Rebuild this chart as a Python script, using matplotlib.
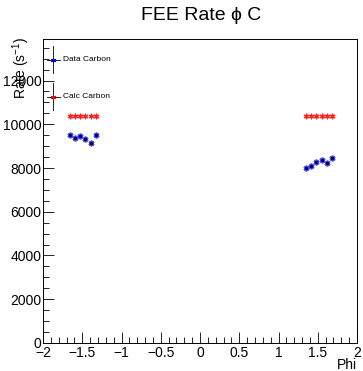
import matplotlib
matplotlib.use("Agg")
import matplotlib.pyplot as plt
from matplotlib.ticker import MultipleLocator, FuncFormatter

plt.rcParams['font.family'] = ['Liberation Sans', 'DejaVu Sans']
plt.rcParams['mathtext.default'] = 'regular'

phi_left = [-1.66, -1.596, -1.529, -1.461, -1.392, -1.325]
phi_right = [1.346, 1.414, 1.482, 1.55, 1.618, 1.685]
data_left = [9520, 9350, 9460, 9340, 9150, 9520]
data_right = [7995, 8070, 8270, 8360, 8240, 8435]
calc_left = [10390] * 6
calc_right = [10390] * 6

phi = phi_left + phi_right
data = data_left + data_right
calc = calc_left + calc_right

legend_labels = ['Data Carbon', 'Calc Carbon']
legend_colors = ['blue', 'red']

fig = plt.figure(figsize=(3.63, 3.71), dpi=100)
ax = fig.add_axes([0.1185, 0.0755, 0.865, 0.8195])

star = (6, 2, 0)
ax.plot(phi, calc, linestyle='none', marker=star, color='#ff2020', markersize=4, markeredgewidth=0.9)
ax.plot(phi, data, linestyle='none', marker=star, color='#3030ff', markersize=4.2, markeredgewidth=1.3, alpha=0.8)
ax.plot(phi, data, linestyle='none', marker='o', color='#000050', markersize=1.6)

ax.set_xlim(-2, 2)
ax.set_ylim(0, 13900)
ax.xaxis.set_major_locator(MultipleLocator(0.5))
ax.xaxis.set_minor_locator(MultipleLocator(0.1))
ax.yaxis.set_major_locator(MultipleLocator(2000))
ax.yaxis.set_minor_locator(MultipleLocator(500))
ax.tick_params(axis='both', which='both', direction='in', top=False, right=False, labelsize=10)
ax.tick_params(which='major', length=8, width=0.6)
ax.tick_params(which='minor', length=4, width=0.6)
ax.tick_params(axis='x', pad=2)
ax.tick_params(axis='y', pad=1)
for s in ax.spines.values():
    s.set_linewidth(0.7)

ax.xaxis.set_major_formatter(FuncFormatter(lambda v, p: ('%g' % v).replace('-', '\u2212')))

fig.text(0.553, 0.958, 'FEE Rate \u03d5 C', ha='center', va='center', fontsize=14)
fig.text(357 / 363, 1 - 365 / 371, 'Phi', ha='right', va='center', fontsize=10)
fig.text(21 / 363, 1 - 37 / 371, 'Rate (s$^{-1}$)', rotation=90, ha='center', va='top', fontsize=10)

# legend
legend_y = [12950, 11260]
x0 = -1.87
for yv, col, lab in zip(legend_y, legend_colors, legend_labels):
    ax.plot([x0, x0], [yv - 620, yv + 620], color='black', lw=0.6)
    ax.plot([x0 - 0.08, x0 + 0.08], [yv, yv], color='black', lw=0.6)
    ax.plot([x0], [yv], marker=star, color=col, markersize=3.5, markeredgewidth=0.8, linestyle='none')
    ax.text(x0 + 0.13, yv, lab, fontsize=6, va='center', ha='left')

fig.savefig('out.png', dpi=100)
